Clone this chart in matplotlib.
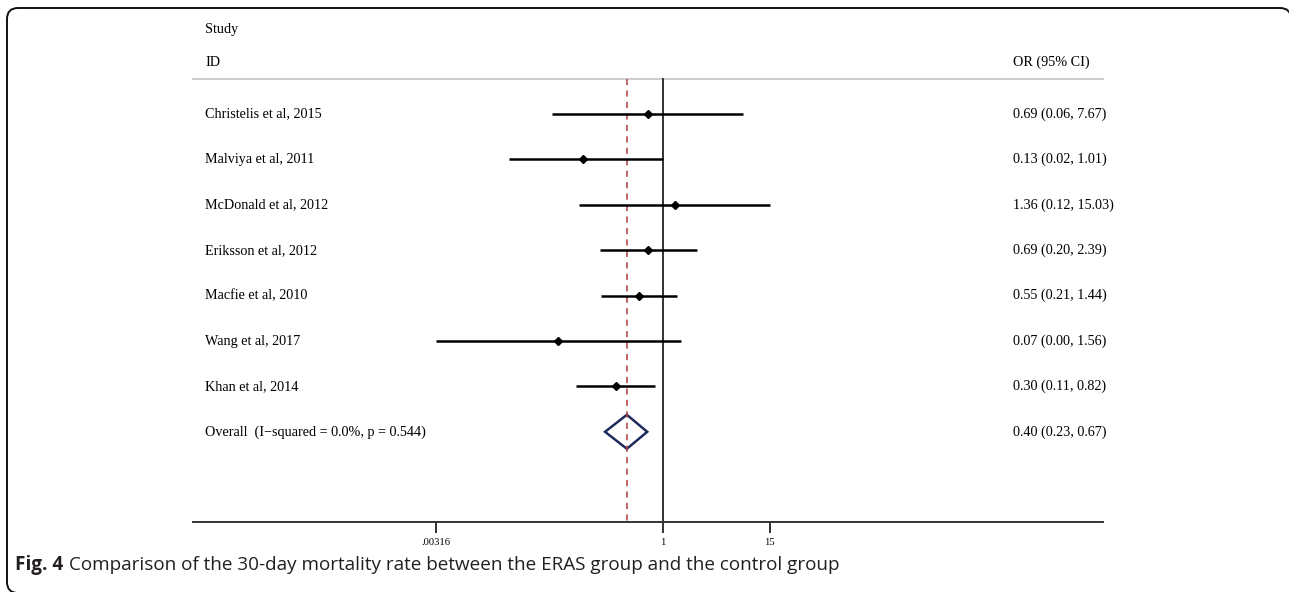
import numpy as np
import matplotlib.pyplot as plt
from matplotlib.patches import PathPatch, Polygon
from matplotlib.path import Path
from matplotlib.transforms import blended_transform_factory, IdentityTransform

studies = ['Christelis et al, 2015', 'Malviya et al, 2011', 'McDonald et al, 2012',
           'Eriksson et al, 2012', 'Macfie et al, 2010', 'Wang et al, 2017',
           'Khan et al, 2014']
odds = [0.69, 0.13, 1.36, 0.69, 0.55, 0.07, 0.30]
ci_low = [0.06, 0.02, 0.12, 0.20, 0.21, 0.0032, 0.11]
ci_high = [7.67, 1.01, 15.03, 2.39, 1.44, 1.56, 0.82]

overall_or = 0.40
overall_low = 0.23
overall_high = 0.67
i_squared = 0.0
p_het = 0.544

tick_vals = [0.00316, 1, 15]
tick_labels = ['.00316', '1', '15']

W, H = 1289, 592
fig = plt.figure(figsize=(W / 100, H / 100), dpi=100)

# axes placed in pixel terms: x from 193 to 1103, y from 10 to 522
ax = fig.add_axes([193 / W, (H - 522) / H, 910 / W, 512 / H])
ax.set_xscale('log')
ax.set_xlim(10 ** ((193 - 663) / 90.8), 10 ** ((1103 - 663) / 90.8))
row_px = 45.4
ax.set_ylim((522 - 114) / row_px, (10 - 114) / row_px)

for s in ['top', 'right', 'left']:
    ax.spines[s].set_visible(False)
ax.spines['bottom'].set_color('#333333')
ax.spines['bottom'].set_linewidth(1.4)
ax.set_yticks([])
ax.set_xticks(tick_vals)
ax.set_xticklabels(tick_labels)
ax.minorticks_off()
ax.tick_params(axis='x', direction='out', length=8, width=1.4, color='#333333',
               labelsize=7.6, pad=3.5)
for lab in ax.get_xticklabels():
    lab.set_fontfamily('Liberation Serif')

serif = 'Liberation Serif'
tr = blended_transform_factory(ax.transAxes, ax.transData)
text_x = (205 - 193) / 910
or_x = (1013 - 193) / 910
fs = 10.2

header_y = (79 - 114) / row_px
ax.plot([0, 1], [header_y, header_y], transform=tr, color='#c8c8c8', lw=1.3,
        clip_on=False)
ax.text(text_x, (30 - 114) / row_px, 'Study', transform=tr, fontfamily=serif,
        fontsize=fs, va='center')
ax.text(text_x, (62 - 114) / row_px, 'ID', transform=tr, fontfamily=serif,
        fontsize=fs, va='center')
ax.text(or_x, (62 - 114) / row_px, 'OR (95% CI)', transform=tr, fontfamily=serif,
        fontsize=fs, va='center')

ybot = ax.get_ylim()[0]
ax.plot([1, 1], [header_y, ybot], color='#222222', lw=1.3)
ax.plot([overall_or, overall_or], [header_y, ybot], color='#b03a3a', lw=1.1,
        dashes=(4, 3.5))

for i, name in enumerate(studies):
    ax.plot([ci_low[i], ci_high[i]], [i, i], color='black', lw=1.8,
            solid_capstyle='butt')
    ax.plot(odds[i], i, marker='D', color='black', markersize=4.5)
    ax.text(text_x, i, name, transform=tr, fontfamily=serif, fontsize=fs,
            va='center')
    ax.text(or_x, i, f'{odds[i]:.2f} ({ci_low[i]:.2f}, {ci_high[i]:.2f})',
            transform=tr, fontfamily=serif, fontsize=fs, va='center')

k = len(studies)
h = 17 / row_px
diamond = Polygon([(overall_low, k), (overall_or, k - h), (overall_high, k),
                   (overall_or, k + h)], closed=True, fill=False,
                  edgecolor='#1f2a5a', lw=1.8)
ax.add_patch(diamond)
ax.text(text_x, k, f'Overall  (I\u2212squared = {i_squared:.1f}%, p = {p_het:.3f})',
        transform=tr, fontfamily=serif, fontsize=fs, va='center')
ax.text(or_x, k, f'{overall_or:.2f} ({overall_low:.2f}, {overall_high:.2f})',
        transform=tr, fontfamily=serif, fontsize=fs, va='center')

# rounded frame in pixel units (origin bottom-left); right edge runs off the image
r = 11
xl, xr, yt, yb = 7, 1291, H - 8, -1
verts = [(xl + r, yb), (xl, yb), (xl, yb + r), (xl, yt - r), (xl, yt), (xl + r, yt),
         (xr - r, yt), (xr, yt), (xr, yt - r), (xr, yb + r)]
codes = [Path.MOVETO, Path.CURVE3, Path.CURVE3, Path.LINETO, Path.CURVE3, Path.CURVE3,
         Path.LINETO, Path.CURVE3, Path.CURVE3, Path.LINETO]
frame = PathPatch(Path(verts, codes), transform=IdentityTransform(), fill=False,
                  edgecolor='#111111', lw=1.4)
fig.patches.append(frame)

# caption
cap_y = 1 - 565 / H
t1 = fig.text(15 / W, cap_y, 'Fig. 4', fontfamily='Open Sans', fontweight='bold',
              fontsize=13.6, color='#231f20', va='center')
fig.canvas.draw()
bb = t1.get_window_extent()
fig.text((bb.x1 + 6) / W, cap_y,
         'Comparison of the 30-day mortality rate between the ERAS group and the control group',
         fontfamily='Open Sans', fontsize=13.6, color='#231f20', va='center')

fig.savefig('out.png', dpi=100)
